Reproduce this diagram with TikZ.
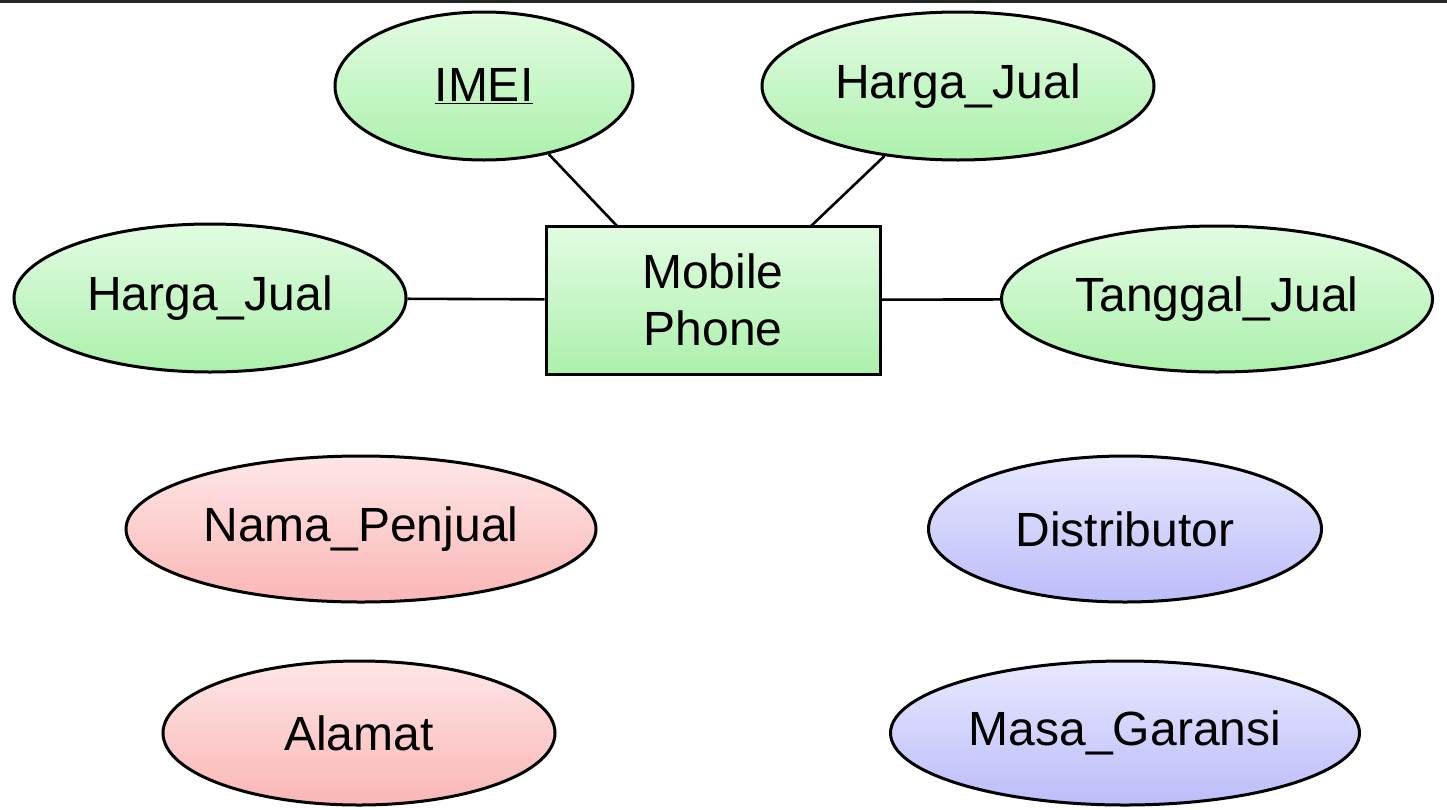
\documentclass[tikz,border=0pt]{standalone}
\usepackage{fontspec}
\setmainfont{Liberation Sans}
\usetikzlibrary{shapes.geometric}
\definecolor{gTop}{RGB}{226,252,226}
\definecolor{gBot}{RGB}{172,240,172}
\definecolor{rTop}{RGB}{255,230,230}
\definecolor{rBot}{RGB}{250,182,182}
\definecolor{bTop}{RGB}{232,232,255}
\definecolor{bBot}{RGB}{188,188,250}
\tikzset{
  attr/.style={ellipse, draw=black, line width=3pt, inner sep=0pt,
    font=\fontsize{48}{57}\selectfont},
  gattr/.style={attr, top color=gTop, bottom color=gBot},
  rattr/.style={attr, top color=rTop, bottom color=rBot},
  battr/.style={attr, top color=bTop, bottom color=bBot},
  entity/.style={rectangle, draw=black, line width=3pt, inner sep=0pt,
    top color=gTop, bottom color=gBot, align=center,
    font=\fontsize{48}{57}\selectfont},
  conn/.style={draw=black, line width=2.6pt}
}
\begin{document}
\begin{tikzpicture}[x=1pt,y=-1pt]
\useasboundingbox (0,0) rectangle (1447,809);
\fill[white] (0,0) rectangle (1447,809);
\fill[black!85] (0,0) rectangle (1447,3);

\node[entity, minimum width=334pt, minimum height=148pt] (mp) at (713,300) {Mobile\\Phone};

\node[gattr, minimum width=298pt, minimum height=148pt] (imei) at (484,86) {\underline{IMEI}};
\node[gattr, minimum width=392pt, minimum height=148pt] (hj1) at (958,86) {Harga\_Jual};
\node[gattr, minimum width=392pt, minimum height=148pt] (hj2) at (210,298) {Harga\_Jual};
\node[gattr, minimum width=431pt, minimum height=146pt] (tj) at (1217,299) {Tanggal\_Jual};

\node[rattr, minimum width=470pt, minimum height=146pt] (np) at (361,529) {Nama\_Penjual};
\node[rattr, minimum width=392pt, minimum height=144pt] (al) at (359,733) {Alamat};
\node[battr, minimum width=393pt, minimum height=146pt] (di) at (1125,529) {Distributor};
\node[battr, minimum width=469pt, minimum height=144pt] (mg) at (1125,733) {Masa\_Garansi};

\coordinate (c1) at (617,226);
\coordinate (c2) at (811,226);
\draw[conn] (imei) -- (c1);
\draw[conn] (hj1) -- (c2);
\draw[conn] (hj2) -- (mp);
\draw[conn] (mp) -- (tj);
\end{tikzpicture}
\end{document}
